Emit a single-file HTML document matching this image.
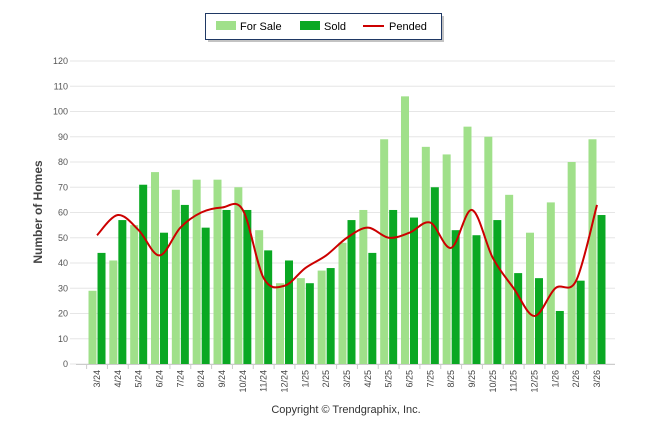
<!DOCTYPE html>
<html><head><meta charset="utf-8"><style>
body{margin:0;background:#fff;font-family:"Liberation Sans",sans-serif}
svg text{font-family:"Liberation Sans",sans-serif}
</style></head><body>
<svg id="c" width="646" height="434"></svg>
<script>
const categories=["3/24","4/24","5/24","6/24","7/24","8/24","9/24","10/24","11/24","12/24","1/25","2/25","3/25","4/25","5/25","6/25","7/25","8/25","9/25","10/25","11/25","12/25","1/26","2/26","3/26"];
const forSale=[29,41,55,76,69,73,73,70,53,32,34,37,48,61,89,106,86,83,94,90,67,52,64,80,89];
const sold=[44,57,71,52,63,54,61,61,45,41,32,38,57,44,61,58,70,53,51,57,36,34,21,33,59];
const pended=[51,59,53,43,54,60,62,61,34,31,38,43,50,54,50,52,56,46,61,42,30,19,30,33,63];
const yTicks=[0,10,20,30,40,50,60,70,80,90,100,110,120];
const NS="http://www.w3.org/2000/svg",svg=document.getElementById('c');
function mk(t,a,p){const e=document.createElementNS(NS,t);for(const k in a)e.setAttribute(k,a[k]);(p||svg).appendChild(e);return e;}
const x0=86.6,x1=607.4,y0=364,y1=61;
const step=(x1-x0)/categories.length;
const X=i=>x0+step*(i+0.5);
const Y=v=>y0-(v/120)*(y0-y1);
yTicks.forEach(t=>{
 const l=mk('line',{x1:70,x2:615,y1:Y(t),y2:Y(t),stroke:'#e6e6e6'});
 
 const tx=mk('text',{x:68,y:Y(t)+3,'text-anchor':'end','font-size':9,fill:'#555'});tx.textContent=t;
 
});
const ax=mk('line',{x1:76,x2:615,y1:y0+0.5,y2:y0+0.5,stroke:'#ccc'});

categories.forEach((c,i)=>{
 const cx=X(i);
 const b1=mk('rect',{x:cx-8.5,y:Y(forSale[i]),width:8,height:y0-Y(forSale[i]),fill:'#a0e08a'});
 
 const b2=mk('rect',{x:cx+0.5,y:Y(sold[i]),width:8,height:y0-Y(sold[i]),fill:'#0aa823'});
 
 const tk=mk('line',{x1:x0+step*i,x2:x0+step*i,y1:y0,y2:y0+5,stroke:'#ccc'});
 
 const t=mk('text',{x:cx+3,y:y0+6,'text-anchor':'end','font-size':9,fill:'#444',transform:`rotate(-90 ${cx+3} ${y0+6})`});t.textContent=c;
 
});
const pts=pended.map((v,i)=>[X(i),Y(v)]);
let d=`M${pts[0][0]},${pts[0][1]}`;
for(let i=0;i<pts.length-1;i++){const p0=pts[i-1]||pts[i],p1=pts[i],p2=pts[i+1],p3=pts[i+2]||p2;
 d+=` C${p1[0]+(p2[0]-p0[0])/6},${p1[1]+(p2[1]-p0[1])/6} ${p2[0]-(p3[0]-p1[0])/6},${p2[1]-(p3[1]-p1[1])/6} ${p2[0]},${p2[1]}`;}
const ln=mk('path',{d:d,fill:'none',stroke:'#cc0000','stroke-width':2});

const yt=mk('text',{x:42,y:212,'text-anchor':'middle','font-size':12,'font-weight':'bold',fill:'#444',transform:'rotate(-90 42 212)'});yt.textContent='Number of Homes';

const cp=mk('text',{x:346,y:413,'text-anchor':'middle','font-size':11,fill:'#333'});cp.textContent='Copyright © Trendgraphix, Inc.';

const lg=mk('g',{});
mk('rect',{x:208,y:16,width:236,height:26,fill:'#888',opacity:0.5},lg);
mk('rect',{x:205.5,y:13.5,width:236,height:26,fill:'#fff',stroke:'#1f3864'},lg);
const e1=mk('rect',{x:216,y:21,width:20,height:9,fill:'#a0e08a'},lg);
let t1=mk('text',{x:240,y:30,'font-size':11,fill:'#000'},lg);t1.textContent='For Sale';

mk('rect',{x:300,y:21,width:20,height:9,fill:'#0aa823'},lg);
let t2=mk('text',{x:324,y:30,'font-size':11,fill:'#000'},lg);t2.textContent='Sold';

mk('line',{x1:363,x2:384,y1:26,y2:26,stroke:'#cc0000','stroke-width':2},lg);
let t3=mk('text',{x:389,y:30,'font-size':11,fill:'#000'},lg);t3.textContent='Pended';

</script>
</body></html>
